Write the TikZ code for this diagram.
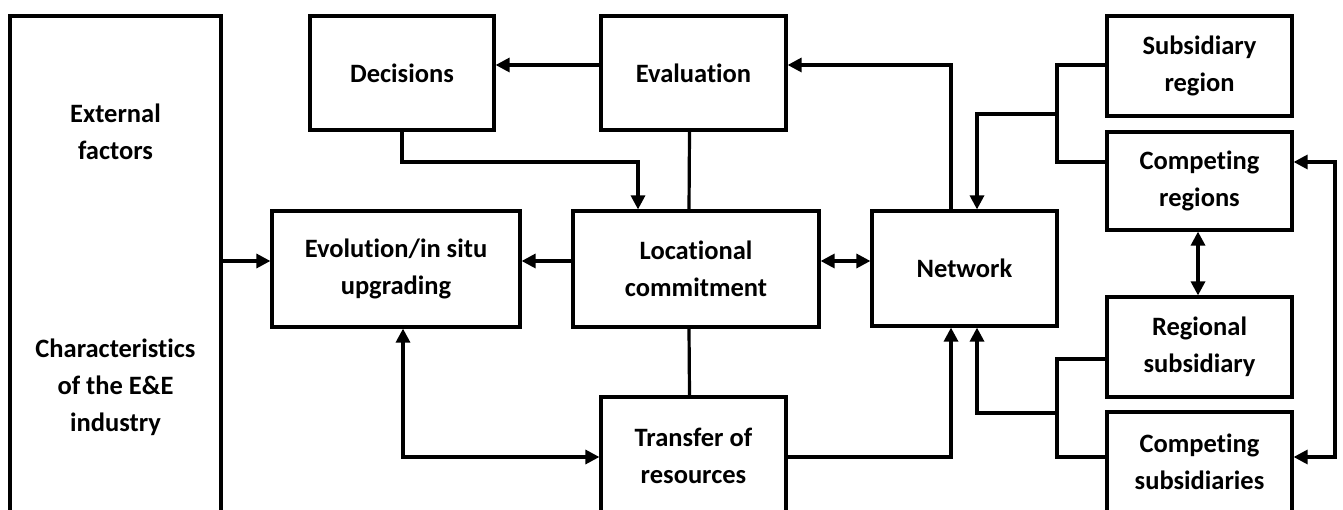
\documentclass[tikz,border=0pt]{standalone}
\usepackage{fontspec}
\setmainfont{Carlito}[Ligatures=NoCommon]
\usetikzlibrary{arrows.meta,calc}
\begin{document}
\begin{tikzpicture}[x=1pt,y=-1pt,
  box/.style={draw,line width=3.2pt,align=center,inner sep=0pt,
    font=\fontsize{26.5}{37}\selectfont\bfseries},
  conn/.style={line width=3.2pt},
  arr/.style={conn,-{Triangle[length=14pt,width=14pt]}},
  dbl/.style={conn,{Triangle[length=14pt,width=14pt]}-{Triangle[length=14pt,width=14pt]}}]
\clip (0,0) rectangle (1343,510);
\fill[white] (0,0) rectangle (1343,510);
% boxes
\node[box,minimum width=211pt,minimum height=508pt] (ext) at (115.5,270)
  {External\\factors\\[161pt]Characteristics\\of the E\&E\\industry};
\node[box,minimum width=184pt,minimum height=114pt] (dec) at (402,73) {Decisions};
\node[box,minimum width=185pt,minimum height=114pt] (eval) at (693.5,73) {Evaluation};
\node[box,minimum width=248pt,minimum height=116pt] (evo) at (396,269) {Evolution/in situ\\upgrading};
\node[box,minimum width=246pt,minimum height=116pt] (loc) at (696,269) {Locational\\commitment};
\node[box,minimum width=185pt,minimum height=115pt] (net) at (964.5,268.5) {Network};
\node[box,minimum width=185pt,minimum height=118pt] (tra) at (693.5,456) {Transfer of\\resources};
\node[box,minimum width=185pt,minimum height=100pt] (sr) at (1199.5,66) {Subsidiary\\region};
\node[box,minimum width=185pt,minimum height=98pt] (cr) at (1199.5,181) {Competing\\regions};
\node[box,minimum width=185pt,minimum height=100pt] (rs) at (1199.5,347) {Regional\\subsidiary};
\node[box,minimum width=185pt,minimum height=100pt] (cs) at (1199.5,462) {Competing\\subsidiaries};
% helper coordinates
\coordinate (yA) at (0,65);
\coordinate (yM) at (0,261);
\coordinate (yB) at (0,162);
\coordinate (yC) at (0,457);
\coordinate (xN) at (951,0);
\coordinate (xL) at (977,0);
\coordinate (xV) at (1057,0);
\coordinate (xR) at (1335,0);
% connectors
\draw[arr] (ext.east |- yM) -- (evo.west |- yM);
\draw[arr] (loc.west |- yM) -- (evo.east |- yM);
\draw[dbl] (loc.east |- yM) -- (net.west |- yM);
\draw[arr] (eval.west |- yA) -- (dec.east |- yA);
\draw[arr] (xN |- net.north) -- (xN |- yA) -- (eval.east |- yA);
\draw[arr] (dec.south) -- (dec.south |- yB) -| ($(loc.north)+(-58,0)$);
\draw[conn] ($(eval.south)+(-4,0)$) -- ($(loc.north)+(-7,0)$);
\draw[conn] ($(loc.south)+(-7,0)$) -- ($(tra.north)+(-4,0)$);
\draw[dbl] ($(evo.south)+(7,0)$) |- (tra.west |- yC);
\draw[arr] (tra.east |- yC) -| (xN |- net.south);
% upper bracket
\draw[conn] (sr.west |- yA) -| (xV |- yB) -- (cr.west |- yB);
\draw[arr] (xV |- 0,114) -| (xL |- net.north);
% lower bracket
\draw[conn] (rs.west |- 0,359) -| (xV |- yC) -- (cs.west |- yC);
\draw[arr] (xV |- 0,413) -| (xL |- net.south);
% right links
\draw[dbl] ($(cr.south)+(-1.5,0)$) -- ($(rs.north)+(-1.5,0)$);
\draw[dbl] (cr.east |- yB) -- (xR |- yB) |- (cs.east |- yC);
\end{tikzpicture}
\end{document}
